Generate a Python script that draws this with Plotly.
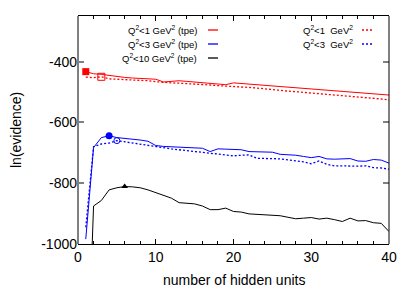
import plotly.graph_objects as go

hidden_units = list(range(1, 41))

red_tpe = [-433, -440, -442, -446, -449, -452, -454, -455, -456, -458,
           -467, -465, -463, -465, -467, -468, -471, -474, -476, -470,
           -472, -474, -476, -478, -480, -482, -484, -486, -488, -490,
           -492, -494, -496, -498, -500, -502, -504, -506, -508, -510]
red_std = [-451, -453, -450, -457, -458, -459, -460, -462, -463, -466,
           -469, -470, -471, -472, -474, -476, -477, -479, -480, -481,
           -483, -485, -487, -490, -492, -494, -497, -499, -501, -503,
           -506, -508, -510, -512, -515, -517, -519, -521, -523, -526]
blue_tpe = [-984, -683, -650, -644, -650, -652, -655, -658, -662, -676,
            -679, -680, -681, -682, -683, -685, -696, -687, -688, -689,
            -690, -696, -697, -697, -698, -705, -706, -708, -712, -716,
            -712, -720, -721, -721, -719, -727, -728, -722, -724, -734]
blue_std = [-945, -680, -671, -668, -660, -664, -668, -672, -677, -680,
            -684, -687, -690, -693, -697, -700, -702, -704, -707, -710,
            -708, -707, -718, -718, -719, -720, -723, -726, -730, -736,
            -727, -738, -743, -743, -744, -744, -743, -749, -750, -754]
black_tpe = [-1600, -875, -857, -822, -815, -811, -812, -815, -822, -831,
             -840, -849, -864, -866, -868, -875, -887, -887, -882, -893,
             -895, -901, -902, -903, -904, -907, -912, -917, -915, -913,
             -918, -915, -920, -926, -915, -924, -923, -930, -932, -959]

# best-model markers
red_best_x, red_best_y = [1], [-433]
red_std_best_x, red_std_best_y = [3], [-450]
blue_best_x, blue_best_y = [4], [-644]
blue_std_best_x, blue_std_best_y = [5], [-660]
black_best_x, black_best_y = [6], [-811]

y_tickvals = [-1000, -800, -600, -400]
y_ticktext = ["-1000", "-800", "-600", "-400"]
x_tickvals = [0, 10, 20, 30, 40]

legend_left = ["Q<sup>2</sup>&lt;1 GeV<sup>2</sup> (tpe)",
               "Q<sup>2</sup>&lt;3 GeV<sup>2</sup> (tpe)",
               "Q<sup>2</sup>&lt;10 GeV<sup>2</sup> (tpe)"]
legend_right = ["Q<sup>2</sup>&lt;1 \u00a0GeV<sup>2</sup>",
                "Q<sup>2</sup>&lt;3 \u00a0GeV<sup>2</sup>"]

RED, BLUE, BLACK = "#ff0000", "#0000ff", "#000000"
FONT = "Liberation Sans, Arial, sans-serif"

fig = go.Figure()
fig.add_trace(go.Scatter(x=hidden_units, y=red_std, mode="lines",
                         line=dict(color=RED, width=1.3, dash="2px,2px")))
fig.add_trace(go.Scatter(x=hidden_units, y=red_tpe, mode="lines",
                         line=dict(color=RED, width=1)))
fig.add_trace(go.Scatter(x=hidden_units, y=blue_std, mode="lines",
                         line=dict(color=BLUE, width=1.3, dash="2px,2px")))
fig.add_trace(go.Scatter(x=hidden_units, y=blue_tpe, mode="lines",
                         line=dict(color=BLUE, width=1)))
fig.add_trace(go.Scatter(x=hidden_units, y=black_tpe, mode="lines",
                         line=dict(color=BLACK, width=1)))

fig.add_trace(go.Scatter(x=red_best_x, y=red_best_y, mode="markers",
                         marker=dict(symbol="square", size=7, color=RED)))
fig.add_trace(go.Scatter(x=red_std_best_x, y=red_std_best_y, mode="markers",
                         marker=dict(symbol="square-open", size=7, color=RED,
                                     line=dict(width=1))))
fig.add_trace(go.Scatter(x=blue_best_x, y=blue_best_y, mode="markers",
                         marker=dict(symbol="circle", size=7, color=BLUE)))
fig.add_trace(go.Scatter(x=blue_std_best_x, y=blue_std_best_y, mode="markers",
                         marker=dict(symbol="circle-open", size=6, color=BLUE,
                                     line=dict(width=1))))
fig.add_trace(go.Scatter(x=black_best_x, y=black_best_y, mode="markers",
                         marker=dict(symbol="triangle-up", size=6, color=BLACK)))

# page is rendered with an 8px body margin; compensate
OFF = 8
W, H = 415, 291
L, R, T, B = 78 - OFF, 26 + OFF, 16 - OFF, 47 + OFF
pw, ph = W - L - R, H - T - B

def px2paper(xp, yp):
    # xp, yp are page pixel positions as seen in the reference
    return (xp - OFF - L) / pw, 1 - (yp - OFF - T) / ph

annotations = []
shapes = []
left_colors = [RED, BLUE, BLACK]
row_y = [30, 44, 58]
for i, txt in enumerate(legend_left):
    xp, yp = px2paper(199, row_y[i])
    annotations.append(dict(x=xp, y=yp, xref="paper", yref="paper", text=txt,
                            showarrow=False, xanchor="right", yanchor="middle",
                            font=dict(size=9.5, color="#000000", family=FONT)))
    x0, y0 = px2paper(208, row_y[i])
    x1, _ = px2paper(218, row_y[i])
    shapes.append(dict(type="line", xref="paper", yref="paper", x0=x0, x1=x1,
                       y0=y0, y1=y0, line=dict(color=left_colors[i], width=1.3)))
right_colors = [RED, BLUE]
for i, txt in enumerate(legend_right):
    xp, yp = px2paper(355, row_y[i])
    annotations.append(dict(x=xp, y=yp, xref="paper", yref="paper", text=txt,
                            showarrow=False, xanchor="right", yanchor="middle",
                            font=dict(size=9.5, color="#000000", family=FONT)))
    x0, y0 = px2paper(362, row_y[i])
    x1, _ = px2paper(374, row_y[i])
    shapes.append(dict(type="line", xref="paper", yref="paper", x0=x0, x1=x1,
                       y0=y0, y1=y0, line=dict(color=right_colors[i], width=1.3,
                                               dash="2px,2px")))

# axis titles
annotations.append(dict(x=0.5, y=0, xref="paper", yref="paper",
                        text="number of hidden units", showarrow=False,
                        xanchor="center", yanchor="middle", yshift=-36,
                        font=dict(size=14, color="#000000", family=FONT)))
annotations.append(dict(x=0, y=0.5, xref="paper", yref="paper",
                        text="ln(evidence)", showarrow=False, textangle=-90,
                        xanchor="center", yanchor="middle", xshift=-62,
                        font=dict(size=14, color="#000000", family=FONT)))

# borders: left gray, right black
shapes.append(dict(type="line", xref="paper", yref="paper", x0=0, x1=0, y0=0, y1=1,
                   line=dict(color="#808080", width=2)))
shapes.append(dict(type="line", xref="paper", yref="paper", x0=1, x1=1, y0=0, y1=1,
                   line=dict(color="#000000", width=1)))

fig.update_layout(
    width=W, height=H,
    margin=dict(l=L, r=R, t=T, b=B),
    paper_bgcolor="white", plot_bgcolor="white",
    showlegend=False,
    font=dict(family=FONT, size=14, color="#000000"),
    annotations=annotations, shapes=shapes,
    xaxis=dict(range=[0, 40], tickvals=x_tickvals, ticks="inside", ticklen=5,
               tickcolor="#000000", tickwidth=1, showline=True, linecolor="#000000",
               linewidth=1, mirror="ticks", showgrid=False, zeroline=False,
               ticklabelstandoff=0,
               minor=dict(dtick=2, ticks="inside", ticklen=3, tickcolor="#000000",
                          showgrid=False),
               tickfont=dict(size=14, family=FONT)),
    yaxis=dict(range=[-1000, -250], tickvals=y_tickvals, ticktext=y_ticktext,
               ticks="inside", ticklen=6, tickcolor="#808080", tickwidth=2,
               showline=False, mirror="ticks", showgrid=False, zeroline=False,
               ticklabelstandoff=0,
               tickfont=dict(size=14, family=FONT)),
)

fig.write_html("out.html")
